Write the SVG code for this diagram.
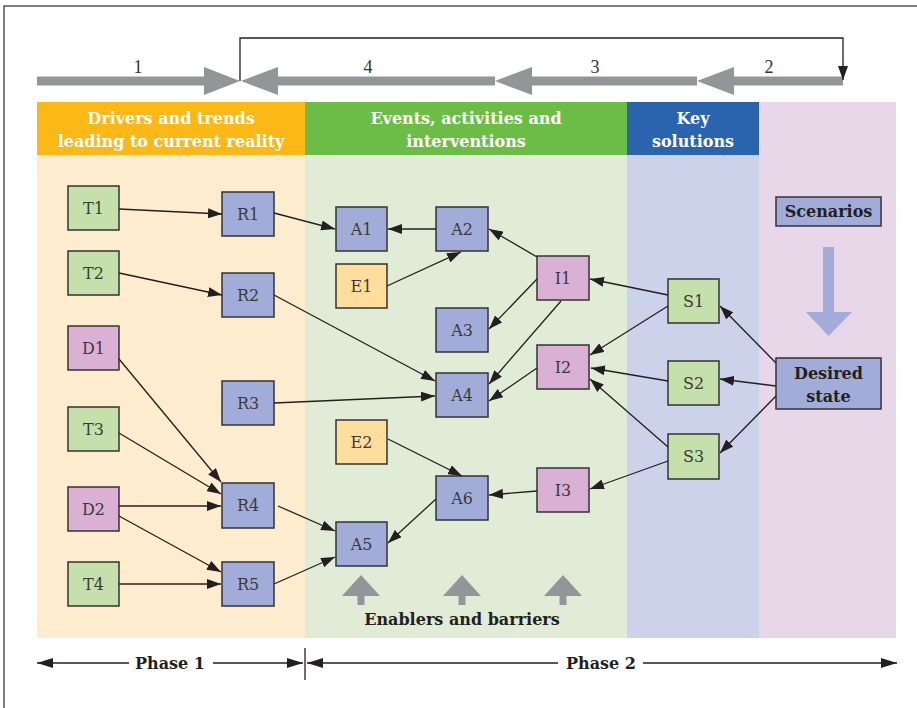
<svg xmlns="http://www.w3.org/2000/svg" width="917" height="708" viewBox="0 0 917 708">
<defs>
<marker id="ah" markerUnits="userSpaceOnUse" markerWidth="14" markerHeight="10" refX="14" refY="5" orient="auto"><path d="M0,0 L14,5 L0,10 z" fill="#231f20"/></marker>
<marker id="ahp" markerUnits="userSpaceOnUse" markerWidth="16" markerHeight="10" refX="16" refY="5" orient="auto"><path d="M0,0 L16,5 L0,10 z" fill="#231f20"/></marker>
<style>
.n rect{stroke:#333;stroke-width:1.5}
.n text{font-family:"DejaVu Serif","Liberation Serif",serif;font-size:16px;fill:#3a3a3a;text-anchor:middle}
.g{fill:#c5e0ab}.b{fill:#a2acd9}.p{fill:#dab0d5}.o{fill:#fedd9d}
.c line{stroke:#231f20;stroke-width:1.3;marker-end:url(#ah)}
.h{font-family:"DejaVu Serif","Liberation Serif",serif;font-size:16px;font-weight:bold;fill:#fff;text-anchor:middle}
.bt{font-family:"DejaVu Serif","Liberation Serif",serif;font-size:16px;font-weight:bold;fill:#231f20;text-anchor:middle}
.num{font-family:"Liberation Serif","DejaVu Serif",serif;font-size:18px;fill:#333;text-anchor:middle}
.ga{fill:#939598}
</style>
</defs>
<rect width="917" height="708" fill="#fff"/>
<path d="M4,708 V6 H917" fill="none" stroke="#555" stroke-width="1.5"/>
<g id="bands">
<rect x="37" y="102" width="268" height="536" fill="#feecce"/>
<rect x="305" y="102" width="322" height="536" fill="#e0ecd5"/>
<rect x="627" y="102" width="132" height="536" fill="#cdd2eb"/>
<rect x="759" y="102" width="137" height="536" fill="#e8d6e9"/>
<rect x="37" y="102" width="268" height="53" fill="#fbb817"/>
<rect x="305" y="102" width="322" height="53" fill="#6cbd45"/>
<rect x="627" y="102" width="132" height="53" fill="#2a63ae"/>
<text class="h" x="171" y="124">Drivers and trends</text>
<text class="h" x="171" y="147">leading to current reality</text>
<text class="h" x="466" y="124">Events, activities and</text>
<text class="h" x="466" y="147">interventions</text>
<text class="h" x="693" y="124">Key</text>
<text class="h" x="693" y="147">solutions</text>
</g>
<g id="process-arrows">
<polygon class="ga" points="37,76.5 204,76.5 204,67 240,81 204,95 204,85.5 37,85.5"/>
<polygon class="ga" points="241,81 278,67 278,76.5 495,76.5 495,85.5 278,85.5 278,95"/>
<polygon class="ga" points="495,81 532,67 532,76.5 697,76.5 697,85.5 532,85.5 532,95"/>
<polygon class="ga" points="697,81 734,67 734,76.5 843,76.5 843,85.5 734,85.5 734,95"/>
<text class="num" x="138" y="73">1</text>
<text class="num" x="368" y="73">4</text>
<text class="num" x="595" y="73">3</text>
<text class="num" x="769" y="73">2</text>
<path d="M240,81 V38 H843 V80" fill="none" stroke="#231f20" stroke-width="1.3" marker-end="url(#ah)"/>
</g>
<g id="T1" class="n"><rect class="g" x="68" y="186" width="51" height="44"/><text x="93.5" y="214">T1</text></g>
<g id="T2" class="n"><rect class="g" x="68" y="251" width="51" height="44"/><text x="93.5" y="279">T2</text></g>
<g id="D1" class="n"><rect class="p" x="68" y="326" width="51" height="44"/><text x="93.5" y="354">D1</text></g>
<g id="T3" class="n"><rect class="g" x="68" y="407" width="51" height="44"/><text x="93.5" y="435">T3</text></g>
<g id="D2" class="n"><rect class="p" x="68" y="487" width="51" height="44"/><text x="93.5" y="515">D2</text></g>
<g id="T4" class="n"><rect class="g" x="68" y="562" width="51" height="44"/><text x="93.5" y="590">T4</text></g>
<g id="R1" class="n"><rect class="b" x="222" y="192" width="52" height="44"/><text x="248" y="220">R1</text></g>
<g id="R2" class="n"><rect class="b" x="222" y="273" width="52" height="44"/><text x="248" y="301">R2</text></g>
<g id="R3" class="n"><rect class="b" x="222" y="381" width="52" height="44"/><text x="248" y="409">R3</text></g>
<g id="R4" class="n"><rect class="b" x="222" y="483" width="52" height="45"/><text x="248" y="511">R4</text></g>
<g id="R5" class="n"><rect class="b" x="222" y="562" width="52" height="44"/><text x="248" y="590">R5</text></g>
<g id="A1" class="n"><rect class="b" x="336" y="207" width="51" height="44"/><text x="361.5" y="235">A1</text></g>
<g id="A2" class="n"><rect class="b" x="436" y="207" width="52" height="44"/><text x="462" y="235">A2</text></g>
<g id="E1" class="n"><rect class="o" x="336" y="264" width="51" height="44"/><text x="361.5" y="292">E1</text></g>
<g id="A3" class="n"><rect class="b" x="436" y="308" width="52" height="44"/><text x="462" y="336">A3</text></g>
<g id="A4" class="n"><rect class="b" x="436" y="373" width="52" height="44"/><text x="462" y="401">A4</text></g>
<g id="E2" class="n"><rect class="o" x="336" y="420" width="51" height="44"/><text x="361.5" y="448">E2</text></g>
<g id="A6" class="n"><rect class="b" x="436" y="476" width="52" height="44"/><text x="462" y="504">A6</text></g>
<g id="A5" class="n"><rect class="b" x="336" y="522" width="51" height="44"/><text x="361.5" y="550">A5</text></g>
<g id="I1" class="n"><rect class="p" x="537" y="256" width="52" height="44"/><text x="563" y="284">I1</text></g>
<g id="I2" class="n"><rect class="p" x="537" y="345" width="52" height="44"/><text x="563" y="373">I2</text></g>
<g id="I3" class="n"><rect class="p" x="537" y="468" width="52" height="44"/><text x="563" y="496">I3</text></g>
<g id="S1" class="n"><rect class="g" x="668" y="279" width="51" height="44"/><text x="693.5" y="307">S1</text></g>
<g id="S2" class="n"><rect class="g" x="668" y="361" width="51" height="44"/><text x="693.5" y="389">S2</text></g>
<g id="S3" class="n"><rect class="g" x="668" y="434" width="51" height="45"/><text x="693.5" y="462">S3</text></g>
<g id="Scenarios" class="n"><rect class="b" x="776" y="197" width="105" height="29"/><text x="828.5" y="217" style="font-weight:bold;fill:#231f20">Scenarios</text></g>
<g id="scenario-arrow"><polygon fill="#a2acd9" points="823,247 834,247 834,312 852,312 828.5,336 806,312 823,312"/></g>
<g id="Desired" class="n"><rect class="b" x="776" y="358" width="105" height="51"/><text x="828.5" y="379" style="font-weight:bold;fill:#231f20">Desired</text><text x="828.5" y="402" style="font-weight:bold;fill:#231f20">state</text></g>
<g id="connectors" class="c">
<line x1="119" y1="209" x2="222" y2="214"/>
<line x1="274" y1="213" x2="335" y2="229"/>
<line x1="119" y1="273" x2="222" y2="295"/>
<line x1="274" y1="295" x2="435" y2="381"/>
<line x1="274" y1="403" x2="435" y2="396"/>
<line x1="119" y1="359" x2="221" y2="482"/>
<line x1="119" y1="433" x2="221" y2="494"/>
<line x1="119" y1="506" x2="221" y2="506"/>
<line x1="119" y1="516" x2="221" y2="572"/>
<line x1="119" y1="584" x2="221" y2="584"/>
<line x1="278" y1="506" x2="335" y2="531"/>
<line x1="274" y1="584" x2="335" y2="557"/>
<line x1="436" y1="229" x2="388" y2="229"/>
<line x1="387" y1="286" x2="461" y2="252"/>
<line x1="537" y1="257" x2="489" y2="229"/>
<line x1="537" y1="279" x2="489" y2="329"/>
<line x1="561" y1="301" x2="489" y2="384"/>
<line x1="537" y1="368" x2="489" y2="401"/>
<line x1="668" y1="295" x2="590" y2="279"/>
<line x1="668" y1="306" x2="590" y2="355"/>
<line x1="668" y1="381" x2="591" y2="368"/>
<line x1="668" y1="447" x2="590" y2="379"/>
<line x1="668" y1="461" x2="590" y2="489"/>
<line x1="537" y1="491" x2="489" y2="495"/>
<line x1="388" y1="439" x2="462" y2="476"/>
<line x1="436" y1="499" x2="388" y2="543"/>
<line x1="776" y1="363" x2="720" y2="306"/>
<line x1="776" y1="386" x2="720" y2="379"/>
<line x1="776" y1="396" x2="720" y2="453"/>
</g>
<g id="enablers">
<polygon class="ga" points="361,575 380,596 364.5,596 364.5,605 357.5,605 357.5,596 342,596"/>
<polygon class="ga" points="462,575 481,596 465.5,596 465.5,605 458.5,605 458.5,596 443,596"/>
<polygon class="ga" points="563,575 582,596 566.5,596 566.5,605 559.5,605 559.5,596 544,596"/>
<text class="bt" x="462" y="625">Enablers and barriers</text>
</g>
<g id="phases">
<line x1="305" y1="648" x2="305" y2="680" stroke="#231f20" stroke-width="1.3"/>
<line x1="129" y1="663" x2="37" y2="663" stroke="#231f20" stroke-width="1.3" marker-end="url(#ahp)"/>
<line x1="213" y1="663" x2="303" y2="663" stroke="#231f20" stroke-width="1.3" marker-end="url(#ahp)"/>
<text class="bt" x="170" y="669">Phase 1</text>
<line x1="558" y1="663" x2="307" y2="663" stroke="#231f20" stroke-width="1.3" marker-end="url(#ahp)"/>
<line x1="643" y1="663" x2="897" y2="663" stroke="#231f20" stroke-width="1.3" marker-end="url(#ahp)"/>
<text class="bt" x="601" y="669">Phase 2</text>
</g>
</svg>
